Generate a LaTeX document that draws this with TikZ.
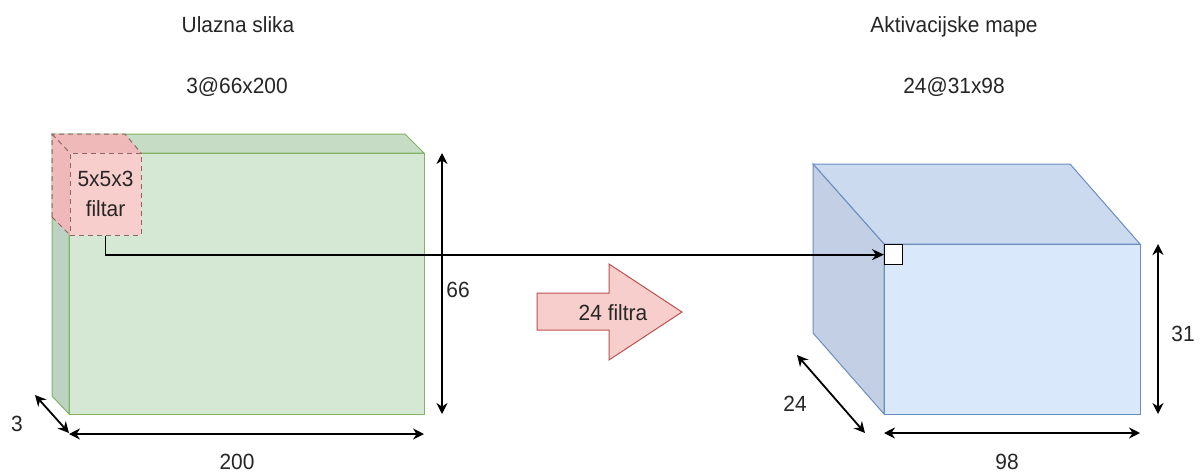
\documentclass[tikz,border=0pt]{standalone}
\usepackage{fontspec}
\setmainfont{Liberation Sans}[FakeStretch=0.95]
\usetikzlibrary{arrows.meta}
\definecolor{gfront}{HTML}{D5E8D4}
\definecolor{gtop}{HTML}{C6DCC4}
\definecolor{gside}{HTML}{BCD2C3}
\definecolor{gstroke}{HTML}{82B366}
\definecolor{bfront}{HTML}{DAE8FC}
\definecolor{btop}{HTML}{CCDAF0}
\definecolor{bside}{HTML}{C2CFE4}
\definecolor{bstroke}{HTML}{6C8EBF}
\definecolor{pfront}{HTML}{F8CECC}
\definecolor{pside}{HTML}{EEB9B8}
\definecolor{pstroke}{HTML}{B85450}
\definecolor{pdash}{HTML}{8A6664}
\definecolor{txt}{HTML}{262626}
\tikzset{
  lbl/.style={font=\fontsize{22}{30}\selectfont, text=txt, inner sep=0pt},
  dimarrow/.style={{Stealth[length=11pt,width=11pt]}-{Stealth[length=11pt,width=11pt]}, line width=1.8pt, black},
  link/.style={-{Stealth[length=12pt,width=11pt]}, line width=1.7pt, black},
  gface/.style={draw=gstroke, line width=1pt},
  bface/.style={draw=bstroke, line width=1pt},
  pdashed/.style={draw=pdash, dashed, dash pattern=on 5pt off 4pt, line width=1pt},
}
\begin{document}
\begin{tikzpicture}[x=1pt,y=-1pt]
\useasboundingbox (0,0) rectangle (1200,472);
\fill[white] (0,0) rectangle (1200,472);

% titles
\node[lbl, anchor=base] (t1) at (238,32) {Ulazna slika};
\node[lbl, anchor=base] (t2) at (237,93) {3@66x200};
\node[lbl, anchor=base] (t3) at (954,32) {Aktivacijske mape};
\node[lbl, anchor=base] (t4) at (954,93) {24@31x98};

% input volume (green)
\filldraw[gface, fill=gtop] (52,134) -- (405,134) -- (424,153) -- (69,153) -- cycle;
\filldraw[gface, fill=gside] (52,134) -- (69,153) -- (69,414) -- (52,396) -- cycle;
\node[gface, fill=gfront, minimum width=355pt, minimum height=261pt, inner sep=0pt] (inface) at (246.5,283.5) {};

% filter (pink, dashed)
\fill[pside] (52,134) -- (125,134) -- (141,153) -- (70,153) -- (70,235) -- (52,217) -- cycle;
\draw[pdashed] (52,217) -- (52,134) -- (125,134) -- (141,153);
\draw[pdashed] (52,134) -- (70,153);
\draw[pdashed] (52,217) -- (70,235);
\node[pdashed, fill=pfront, minimum width=71pt, minimum height=82pt, inner sep=0pt, lbl, align=center] (filter) at (105.5,194) {5x5x3\\filtar};

% output volume (blue)
\filldraw[bface, fill=btop] (813,164) -- (1070,164) -- (1140,244) -- (884,244) -- cycle;
\filldraw[bface, fill=bside] (813,164) -- (884,244) -- (884,414) -- (813,333) -- cycle;
\node[bface, fill=bfront, minimum width=256pt, minimum height=170pt, inner sep=0pt] (outface) at (1012,329) {};
\node[draw=black, line width=1.3pt, fill=white, minimum width=18pt, minimum height=20pt, inner sep=0pt, anchor=north west] (cell) at (884,244) {};

% connector
\draw[link] (filter.south) |- (cell.west);

% big arrow
\filldraw[draw=pstroke, fill=pfront, line width=1pt] (537,293) -- (609,293) -- (609,264) -- (682,312) -- (609,360) -- (609,330) -- (537,330) -- cycle;
\node[lbl] (filtra) at (613,313) {24 filtra};

% dimension arrows, input
\coordinate (h1a) at (442,153); \coordinate (h1b) at (442,414);
\draw[dimarrow] (h1a) -- (h1b);
\node[lbl] (d66) at (458,290) {66};
\coordinate (w1a) at (69,434); \coordinate (w1b) at (424,434);
\draw[dimarrow] (w1a) -- (w1b);
\node[lbl] (d200) at (237,462) {200};
\coordinate (z1a) at (35,395); \coordinate (z1b) at (69,433);
\draw[dimarrow] (z1a) -- (z1b);
\node[lbl] (d3) at (17,424) {3};

% dimension arrows, output
\coordinate (h2a) at (1158,244); \coordinate (h2b) at (1158,414);
\draw[dimarrow] (h2a) -- (h2b);
\node[lbl] (d31) at (1183,334) {31};
\coordinate (w2a) at (884,433); \coordinate (w2b) at (1140,433);
\draw[dimarrow] (w2a) -- (w2b);
\node[lbl] (d98) at (1007,462) {98};
\coordinate (z2a) at (797,355); \coordinate (z2b) at (865,433);
\draw[dimarrow] (z2a) -- (z2b);
\node[lbl] (d24) at (795,404) {24};
\end{tikzpicture}
\end{document}
